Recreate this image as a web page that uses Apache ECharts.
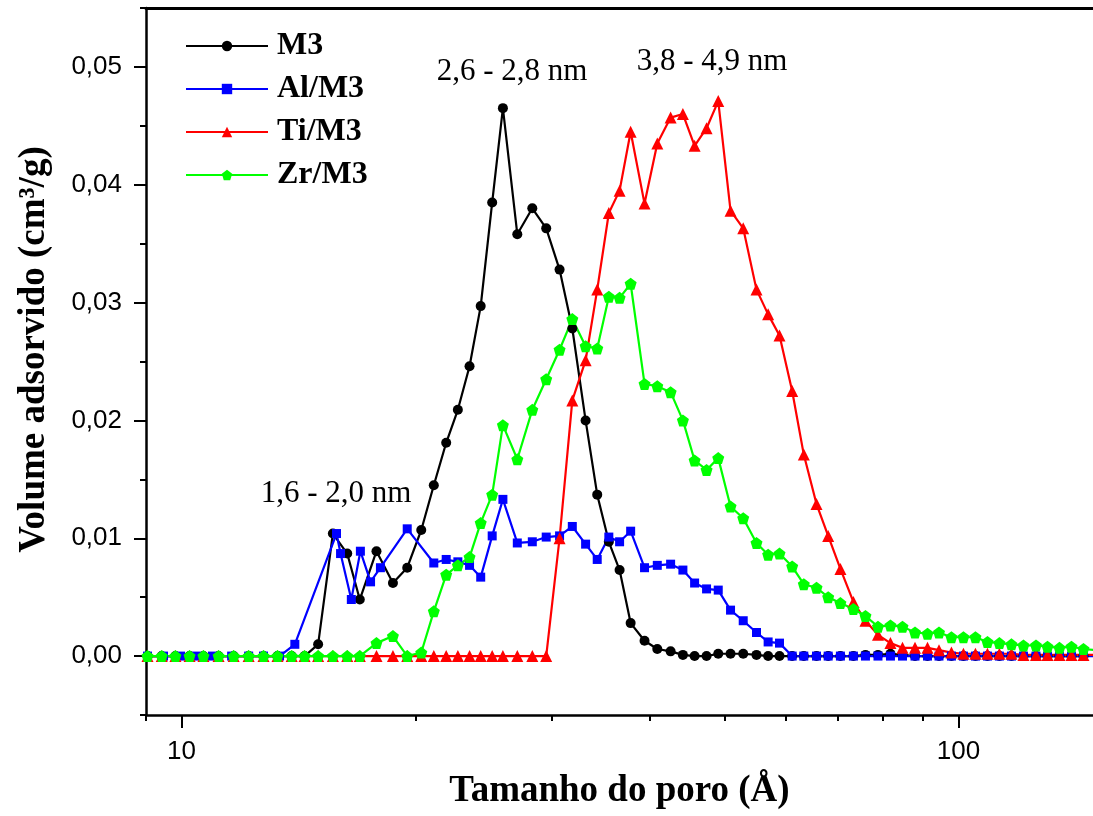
<!DOCTYPE html>
<html>
<head>
<meta charset="utf-8">
<script src="https://cdn.jsdelivr.net/npm/echarts@6/dist/echarts.min.js"></script>
<style>
  html, body { margin: 0; padding: 0; background: #fff; }
  #chart { width: 1093px; height: 816px; }
</style>
</head>
<body>
<div id="chart"></div>
<script>
// pore size (Å) for M3, Ti/M3, Zr/M3
const poreGrid = [9.04, 9.43, 9.82, 10.24, 10.67, 11.16, 11.67, 12.20, 12.75, 13.29, 13.86, 14.40,
  14.99, 15.66, 16.34, 16.96, 17.82, 18.71, 19.52, 20.35, 21.12, 21.91, 22.68, 23.48, 24.27, 25.11,
  25.92, 27.05, 28.28, 29.47, 30.66, 31.84, 33.12, 34.28, 35.48, 36.63, 37.85, 39.44, 40.96, 42.61,
  44.19, 45.75, 47.40, 49.07, 50.89, 52.84, 54.96, 56.89, 58.84, 61.09, 63.23, 65.66, 67.97, 70.48,
  73.25, 75.91, 78.78, 81.75, 84.72, 87.92, 91.24, 94.40, 97.94, 101.49, 105.17, 108.98, 112.90,
  117.01, 121.25, 125.83, 130.20, 134.90, 139.79, 144.85, 150.08];

// pore size (Å) for Al/M3
const poreAl = [9.04, 9.48, 9.97, 10.45, 10.96, 11.60, 12.20, 12.75, 13.37, 13.99, 15.83, 16.02,
  16.54, 16.99, 17.51, 18.03, 19.52, 21.12, 21.91, 22.68, 23.48, 24.27, 25.11, 25.92, 27.05, 28.28,
  29.47, 30.66, 31.84, 33.12, 34.28, 35.48, 36.63, 37.85, 39.44, 40.96, 42.61, 44.19, 45.75, 47.40,
  49.07, 50.89, 52.84, 54.96, 56.89, 58.84, 61.09, 63.23, 65.66, 67.97, 70.48, 73.25, 75.91, 78.78,
  81.75, 84.72, 87.92, 91.24, 94.40, 97.94, 101.49, 105.17, 108.98, 112.90, 117.01, 121.25, 125.83,
  130.20, 134.90, 139.79, 144.85, 150.08];

const m3 = [0, 0, 0, 0, 0, 0, 0, 0, 0, 0, 0, 0,
  0.0010, 0.0104, 0.0087, 0.0048, 0.0089, 0.0062, 0.0075, 0.0107, 0.0145, 0.0181, 0.0209, 0.0246,
  0.0297, 0.0385, 0.0465, 0.0358, 0.0380, 0.0363, 0.0328, 0.0278, 0.0200, 0.0137, 0.0097, 0.0073,
  0.0028, 0.0013, 0.0006, 0.0004, 0.0001, 0, 0, 0.0002, 0.0002, 0.0002, 0.0001, 0, 0,
  0, 0, 0, 0, 0, 0, 0.0001, 0.0001, 0.0002, 0.0001, 0, 0, 0, 0, 0, 0, 0, 0, 0, 0, 0, 0, 0, 0, 0];

const alM3 = [0, 0, 0, 0, 0, 0, 0, 0, 0,
  0.0010, 0.0104, 0.0087, 0.0048, 0.0089, 0.0063, 0.0075, 0.0108,
  0.0079, 0.0082, 0.0080, 0.0077, 0.0067, 0.0102, 0.0133, 0.0096, 0.0097, 0.0101, 0.0102, 0.0110,
  0.0095, 0.0082, 0.0101, 0.0097, 0.0106, 0.0075, 0.0077, 0.0078, 0.0073, 0.0062, 0.0057, 0.0056,
  0.0039, 0.0030, 0.0020, 0.0012, 0.0011,
  0, 0, 0, 0, 0, 0, 0, 0, 0, 0, 0, 0, 0, 0, 0, 0, 0, 0, 0, 0, 0, 0, 0, 0, 0, 0];

const tiM3 = [0, 0, 0, 0, 0, 0, 0, 0, 0, 0, 0, 0, 0, 0, 0, 0, 0, 0, 0, 0, 0, 0, 0, 0, 0, 0, 0, 0, 0, 0,
  0.0100, 0.0217, 0.0251, 0.0311, 0.0376, 0.0395, 0.0445, 0.0384, 0.0435, 0.0457, 0.0460, 0.0433,
  0.0448, 0.0471, 0.0378, 0.0363, 0.0311, 0.0290, 0.0272, 0.0225, 0.0171, 0.0129, 0.0102, 0.0074,
  0.0046, 0.0030, 0.0018, 0.0011, 0.0007, 0.0007, 0.0007, 0.0005, 0.0003, 0.0002, 0.0002, 0.0002,
  0.0002, 0.0002, 0.0001, 0.0001, 0.0001, 0.0001, 0.0001, 0.0001, 0.0001];

const zrM3 = [0, 0, 0, 0, 0, 0, 0, 0, 0, 0, 0, 0, 0, 0, 0, 0,
  0.0011, 0.0017, 0, 0.0003, 0.0038, 0.0069, 0.0077, 0.0084, 0.0113, 0.0137, 0.0196, 0.0167,
  0.0209, 0.0235, 0.0260, 0.0286, 0.0263, 0.0261, 0.0305, 0.0304, 0.0316, 0.0231, 0.0229, 0.0224,
  0.0200, 0.0166, 0.0158, 0.0168, 0.0127, 0.0117, 0.0096, 0.0086, 0.0087, 0.0076, 0.0061, 0.0058,
  0.0050, 0.0045, 0.0040, 0.0034, 0.0025, 0.0026, 0.0025, 0.0020, 0.0019, 0.0020, 0.0016, 0.0016,
  0.0016, 0.0012, 0.0011, 0.0010, 0.0009, 0.0009, 0.0008, 0.0007, 0.0008, 0.0006, 0.0005];

const xMajor = [10, 100];
const xMinor = [9, 20, 30, 40, 50, 60, 70, 80, 90];
const yMajor = [0, 0.01, 0.02, 0.03, 0.04, 0.05];
const yMinor = [-0.005, 0.005, 0.015, 0.025, 0.035, 0.045, 0.055];

const serif = '"Liberation Serif", "Times New Roman", serif';
const sans = '"Liberation Sans", Arial, sans-serif';
const pentagon = 'path://M50,0 L97.55,34.55 L79.39,90.45 L20.61,90.45 L2.45,34.55 Z';

function pairs(xs, ys) {
  return xs.map((x, i) => [x, ys[i]]);
}

const chart = echarts.init(document.getElementById('chart'));

const xBase = { type: 'log', logBase: 10, min: 9, max: 149, gridIndex: 0 };
const yBase = { type: 'value', min: -0.005, max: 0.055, gridIndex: 0 };

function mkSeries(name, xs, ys, color, symbol, size) {
  return {
    name: name,
    type: 'line',
    data: pairs(xs, ys),
    symbol: symbol,
    symbolSize: size,
    showSymbol: true,
    lineStyle: { color: color, width: 2.2 },
    itemStyle: { color: color },
    emphasis: { disabled: true }
  };
}

const option = {
  animation: false,
  backgroundColor: '#fff',
  grid: { left: 146, right: 0, top: 8, bottom: 101, containLabel: false },
  legend: {
    orient: 'vertical',
    left: 180,
    top: 25,
    itemWidth: 82,
    itemHeight: 13,
    itemGap: 11,
    textStyle: { fontFamily: serif, fontWeight: 'bold', fontSize: 32, color: '#000', padding: [0, 0, 0, 4] },
    data: ['M3', 'Al/M3', 'Ti/M3', 'Zr/M3']
  },
  xAxis: [
    Object.assign({}, xBase, {
      position: 'bottom',
      name: 'Tamanho do poro (Å)',
      nameLocation: 'middle',
      nameGap: 58,
      nameTextStyle: { fontFamily: serif, fontWeight: 'bold', fontSize: 37, color: '#000' },
      axisLine: { show: true, onZero: false, lineStyle: { color: '#000', width: 2.5 } },
      axisTick: { show: true, inside: false, length: 13, lineStyle: { color: '#000', width: 2 }, customValues: xMajor },
      axisLabel: { show: true, margin: 24, fontFamily: sans, fontSize: 26, color: '#000', customValues: xMajor,
        formatter: v => String(Math.round(v)) },
      splitLine: { show: false },
      minorTick: { show: false }
    }),
    Object.assign({}, xBase, {
      position: 'top',
      axisLine: { show: true, onZero: false, lineStyle: { color: '#000', width: 3 } },
      axisTick: { show: false },
      axisLabel: { show: false },
      splitLine: { show: false }
    }),
    Object.assign({}, xBase, {
      position: 'bottom',
      axisLine: { show: false, onZero: false },
      axisTick: { show: true, length: 6, lineStyle: { color: '#000', width: 2 }, customValues: xMinor },
      axisLabel: { show: false },
      splitLine: { show: false }
    })
  ],
  yAxis: [
    Object.assign({}, yBase, {
      position: 'left',
      name: 'Volume adsorvido (cm³/g)',
      nameLocation: 'middle',
      nameGap: 93,
      nameTextStyle: { fontFamily: serif, fontWeight: 'bold', fontSize: 37, color: '#000', padding: [0, 0, 0, 24] },
      axisLine: { show: true, onZero: false, lineStyle: { color: '#000', width: 2.5 } },
      axisTick: { show: true, inside: false, length: 12, lineStyle: { color: '#000', width: 2 }, customValues: yMajor },
      axisLabel: { show: true, margin: 24, fontFamily: sans, fontSize: 26, color: '#000', customValues: yMajor,
        formatter: v => v.toFixed(2).replace('.', ',') },
      splitLine: { show: false }
    }),
    Object.assign({}, yBase, {
      position: 'left',
      axisLine: { show: false, onZero: false },
      axisTick: { show: true, length: 6, lineStyle: { color: '#000', width: 2 }, customValues: yMinor },
      axisLabel: { show: false },
      splitLine: { show: false }
    })
  ],
  graphic: [
    { type: 'text', x: 512, y: 72, style: { text: '2,6 - 2,8 nm', fontFamily: serif, fontSize: 31, fill: '#000', align: 'center', verticalAlign: 'middle' } },
    { type: 'text', x: 712, y: 62, style: { text: '3,8 - 4,9 nm', fontFamily: serif, fontSize: 31, fill: '#000', align: 'center', verticalAlign: 'middle' } },
    { type: 'text', x: 336, y: 494, style: { text: '1,6 - 2,0 nm', fontFamily: serif, fontSize: 31, fill: '#000', align: 'center', verticalAlign: 'middle' } }
  ],
  series: [
    mkSeries('M3', poreGrid, m3, '#000000', 'circle', 10),
    mkSeries('Al/M3', poreAl, alM3, '#0000ff', 'rect', 9),
    mkSeries('Ti/M3', poreGrid, tiM3, '#ff0000', 'triangle', 12),
    mkSeries('Zr/M3', poreGrid, zrM3, '#00ff00', pentagon, 12)
  ]
};

chart.setOption(option);
</script>
</body>
</html>
